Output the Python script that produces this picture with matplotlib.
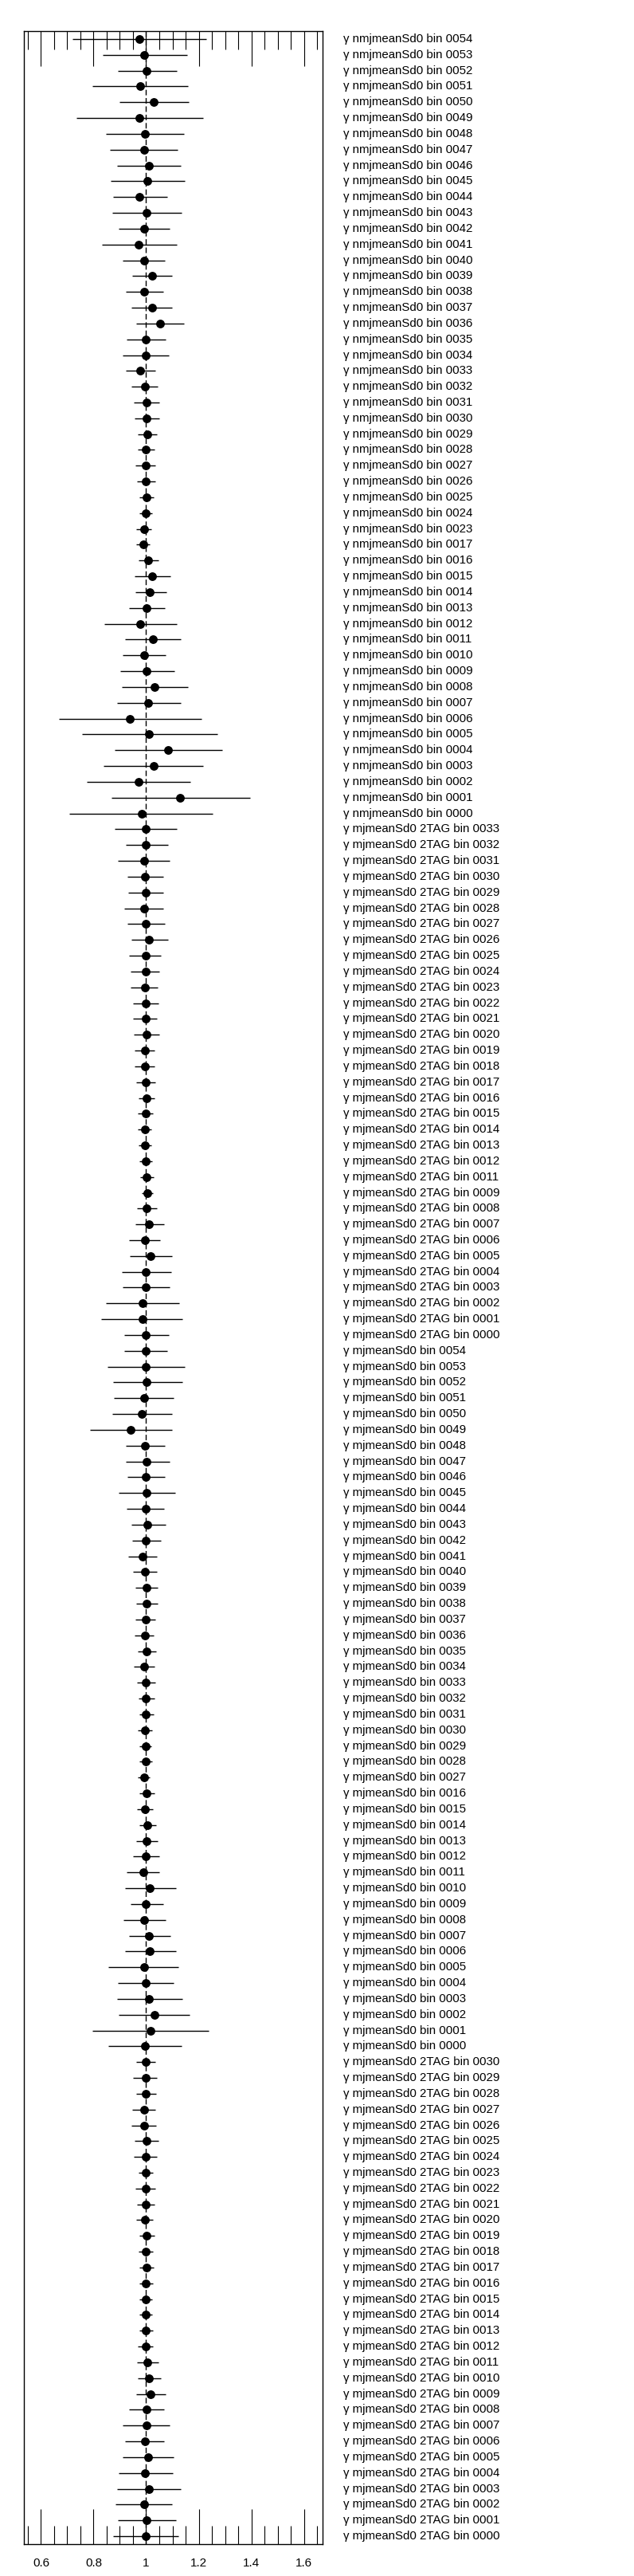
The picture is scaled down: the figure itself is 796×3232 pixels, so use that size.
import numpy as np
import matplotlib
matplotlib.use("Agg")
import matplotlib.pyplot as plt
from matplotlib.transforms import blended_transform_factory
from matplotlib.ticker import FixedLocator, FuncFormatter

plt.rcParams["font.family"] = ["Liberation Sans", "DejaVu Sans"]

# ── DATA ──────────────────────────────────────────────────────
# group 1 : γ nmjmeanSd0 bin
g1_bins = list(range(54, 22, -1)) + list(range(17, -1, -1))
g1_val = [0.975, 0.992, 1.002, 0.978, 1.030, 0.975, 0.995, 0.991, 1.012, 1.005,
          0.975, 1.002, 0.991, 0.972, 0.991, 1.022, 0.991, 1.022, 1.052, 1.000,
          0.997, 0.978, 0.994, 1.003, 1.003, 1.006, 1.000, 0.997, 1.000, 1.003,
          1.000, 0.991, 0.988, 1.009, 1.022, 1.015, 1.003, 0.978, 1.025, 0.991,
          1.003, 1.031, 1.009, 0.938, 1.012, 1.083, 1.028, 0.972, 1.129, 0.982]
g1_lo = [0.719, 0.834, 0.892, 0.797, 0.898, 0.734, 0.848, 0.861, 0.889, 0.864,
         0.873, 0.870, 0.894, 0.833, 0.910, 0.947, 0.922, 0.944, 0.962, 0.925,
         0.910, 0.922, 0.944, 0.953, 0.956, 0.968, 0.968, 0.959, 0.965, 0.974,
         0.974, 0.962, 0.962, 0.971, 0.956, 0.959, 0.934, 0.842, 0.919, 0.910,
         0.901, 0.907, 0.888, 0.667, 0.756, 0.879, 0.839, 0.774, 0.867, 0.707]
g1_hi = [1.230, 1.155, 1.116, 1.158, 1.161, 1.216, 1.145, 1.120, 1.133, 1.148,
         1.081, 1.136, 1.088, 1.116, 1.070, 1.097, 1.064, 1.097, 1.144, 1.073,
         1.085, 1.036, 1.045, 1.051, 1.051, 1.042, 1.033, 1.036, 1.036, 1.030,
         1.024, 1.021, 1.014, 1.048, 1.091, 1.076, 1.070, 1.116, 1.131, 1.073,
         1.107, 1.159, 1.131, 1.211, 1.270, 1.288, 1.217, 1.168, 1.396, 1.254]

# group 2 : γ mjmeanSd0 2TAG bin (first block)
g2_bins = list(range(33, 10, -1)) + list(range(9, -1, -1))
g2_val = [0.997, 1.000, 0.991, 0.994, 0.997, 0.991, 1.000, 1.012, 0.997, 0.997,
          0.994, 0.997, 0.997, 1.003, 0.994, 0.994, 0.997, 1.003, 0.997, 0.994,
          0.994, 0.997, 1.003, 1.006, 1.003, 1.012, 0.994, 1.018, 1.000, 1.000,
          0.985, 0.985, 1.000]
g2_lo = [0.879, 0.922, 0.891, 0.928, 0.931, 0.916, 0.928, 0.944, 0.934, 0.941,
         0.941, 0.950, 0.950, 0.953, 0.956, 0.956, 0.962, 0.971, 0.968, 0.968,
         0.971, 0.974, 0.977, 0.984, 0.965, 0.959, 0.934, 0.937, 0.907, 0.910,
         0.848, 0.830, 0.916]
g2_hi = [1.116, 1.082, 1.088, 1.064, 1.064, 1.064, 1.070, 1.082, 1.057, 1.051,
         1.045, 1.048, 1.042, 1.051, 1.033, 1.033, 1.036, 1.033, 1.027, 1.021,
         1.021, 1.024, 1.030, 1.027, 1.042, 1.067, 1.054, 1.097, 1.094, 1.088,
         1.125, 1.137, 1.085]

# group 3 : γ mjmeanSd0 bin
g3_bins = list(range(54, 26, -1)) + list(range(16, -1, -1))
g3_val = [0.997, 1.000, 1.003, 0.991, 0.982, 0.942, 0.994, 1.003, 1.000, 1.003,
          0.997, 1.006, 1.000, 0.985, 0.994, 1.003, 1.003, 0.997, 0.994, 1.003,
          0.991, 1.000, 1.000, 1.000, 0.994, 0.997, 0.997, 0.991, 1.003, 0.994,
          1.006, 1.003, 1.000, 0.988, 1.015, 1.000, 0.991, 1.012, 1.015, 0.991,
          0.997, 1.012, 1.031, 1.018, 0.994]
g3_lo = [0.916, 0.854, 0.873, 0.876, 0.870, 0.787, 0.922, 0.922, 0.928, 0.894,
         0.925, 0.944, 0.947, 0.931, 0.950, 0.959, 0.962, 0.959, 0.956, 0.968,
         0.953, 0.965, 0.971, 0.974, 0.968, 0.974, 0.974, 0.968, 0.974, 0.965,
         0.974, 0.962, 0.950, 0.925, 0.919, 0.941, 0.913, 0.934, 0.919, 0.857,
         0.891, 0.888, 0.894, 0.796, 0.857]
g3_hi = [1.079, 1.147, 1.137, 1.104, 1.097, 1.097, 1.070, 1.088, 1.070, 1.110,
         1.067, 1.073, 1.057, 1.042, 1.042, 1.045, 1.045, 1.036, 1.030, 1.039,
         1.033, 1.036, 1.033, 1.030, 1.024, 1.021, 1.024, 1.014, 1.033, 1.027,
         1.039, 1.045, 1.051, 1.051, 1.113, 1.064, 1.073, 1.091, 1.113, 1.122,
         1.104, 1.137, 1.165, 1.239, 1.134]

# group 4 : γ mjmeanSd0 2TAG bin (second block)
g4_bins = list(range(30, -1, -1))
g4_val = [1.000, 0.997, 1.000, 0.991, 0.991, 1.003, 0.997, 1.000, 0.997, 0.997,
          0.994, 1.003, 1.000, 1.003, 1.000, 1.000, 1.000, 1.000, 0.997, 1.004,
          1.011, 1.017, 1.002, 1.002, 0.995, 1.008, 0.995, 1.011, 0.991, 1.002,
          0.998]
g4_lo = [0.962, 0.950, 0.962, 0.947, 0.944, 0.956, 0.953, 0.971, 0.959, 0.965,
         0.962, 0.974, 0.971, 0.974, 0.974, 0.974, 0.974, 0.974, 0.968, 0.965,
         0.967, 0.961, 0.936, 0.911, 0.920, 0.911, 0.894, 0.888, 0.884, 0.891,
         0.875]
g4_hi = [1.036, 1.042, 1.039, 1.036, 1.039, 1.048, 1.042, 1.027, 1.036, 1.033,
         1.027, 1.033, 1.027, 1.030, 1.027, 1.024, 1.024, 1.027, 1.027, 1.046,
         1.055, 1.073, 1.067, 1.089, 1.067, 1.105, 1.102, 1.131, 1.098, 1.113,
         1.122]

groups = [
    ("γ nmjmeanSd0 bin",      g1_bins, g1_val, g1_lo, g1_hi),
    ("γ mjmeanSd0 2TAG bin",  g2_bins, g2_val, g2_lo, g2_hi),
    ("γ mjmeanSd0 bin",       g3_bins, g3_val, g3_lo, g3_hi),
    ("γ mjmeanSd0 2TAG bin",  g4_bins, g4_val, g4_lo, g4_hi),
]

labels, val, lo, hi = [], [], [], []
for prefix, bins, v, l, h in groups:
    labels += [f"{prefix} {b:04d}" for b in bins]
    val += v; lo += l; hi += h
val = np.array(val); lo = np.array(lo); hi = np.array(hi)
n = len(labels)
ypos = n - 0.5 - np.arange(n)   # top row first

# ── FIGURE ────────────────────────────────────────────────────
W, H = 796, 3232
fig = plt.figure(figsize=(W / 100, H / 100), dpi=100)
ax = fig.add_axes([30 / W, (H - 3192) / H, 375 / W, (3192 - 39) / H])

ax.axvline(1.0, color="black", lw=1.0, ls=(0, (5, 2.5)), zorder=1)
ax.hlines(ypos, lo, hi, color="black", lw=1.0, zorder=2)
ax.plot(val, ypos, "o", color="black", ms=6.8, zorder=3)

ax.set_xlim(0.535, 1.671)
ax.set_ylim(0, n)
ax.set_yticks([])

ax.xaxis.set_major_locator(FixedLocator([0.6, 0.8, 1.0, 1.2, 1.4, 1.6]))
ax.xaxis.set_minor_locator(FixedLocator(np.arange(0.55, 1.66, 0.05)))
ax.xaxis.set_major_formatter(FuncFormatter(lambda x, _: f"{x:g}"))
ax.tick_params(axis="x", which="major", direction="in", top=True, bottom=True,
               length=32, width=0.8, pad=12, labelsize=11)
ax.tick_params(axis="x", which="minor", direction="in", top=True, bottom=True,
               length=16.5, width=0.8)
for s in ax.spines.values():
    s.set_linewidth(1.0)

# row labels right of the frame
tr = blended_transform_factory(fig.transFigure, ax.transData)
for lab, y in zip(labels, ypos):
    ax.text(431 / W, y, lab, transform=tr, ha="left", va="center",
            fontsize=10.8, clip_on=False)

fig.savefig("out.png", dpi=100)
